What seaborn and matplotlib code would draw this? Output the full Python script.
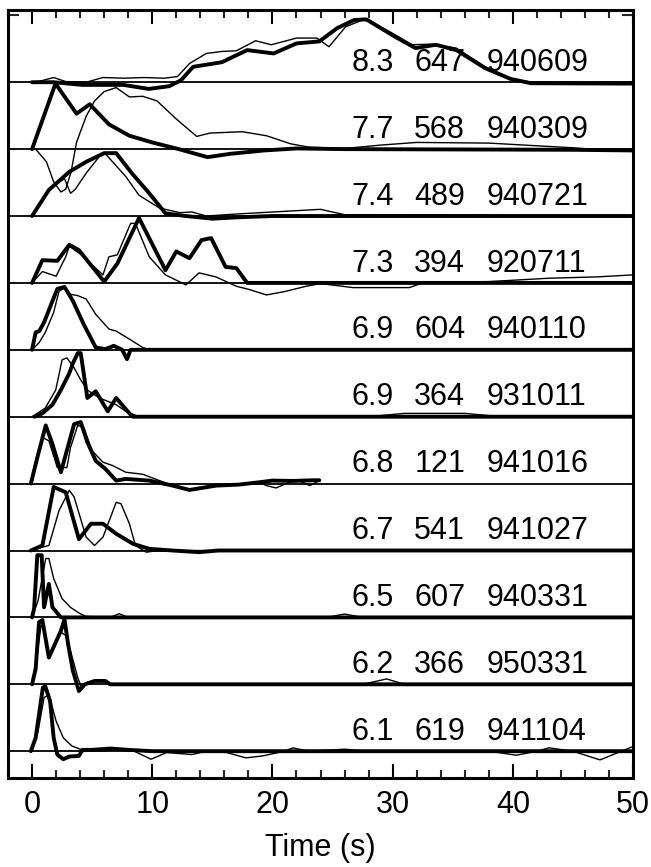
import numpy as np
import pandas as pd
import matplotlib
matplotlib.use("Agg")
import matplotlib.pyplot as plt
from matplotlib.ticker import MultipleLocator
import seaborn as sns

# Event labels: magnitude, station/record number, date (yymmdd), top to bottom
magnitudes = ["8.3", "7.7", "7.4", "7.3", "6.9", "6.9", "6.8", "6.7", "6.5", "6.2", "6.1"]
record_ids = ["647", "568", "489", "394", "604", "364", "121", "541", "607", "366", "619"]
dates = ["940609", "940309", "940721", "920711", "940110", "931011",
         "941016", "941027", "940331", "950331", "941104"]

# Source time functions (normalised amplitude) - thick: primary estimate, thin: alternative
thick_t = [
    [0, 1.8, 4.2, 7.6, 9.7, 11.4, 12.4, 13.4, 15.8, 17.9, 20.1, 22.0, 23.9, 25.4, 26.8, 27.8,
     30.2, 31.9, 33.6, 35.3, 37.7, 39.8, 41.5, 49.4, 50],
    [0, 1.95, 3.7, 4.8, 6.4, 8.1, 10.0, 12.2, 14.6, 16.5, 19.3, 22.0, 26, 45, 50],
    [0, 1.4, 3.1, 4.5, 6.0, 7.0, 8.3, 9.75, 11.1, 12.8, 15.0, 17, 20, 50],
    [0, 0.86, 2.1, 3.1, 3.9, 6.0, 7.1, 8.9, 11.1, 12.0, 13.1, 14.1, 14.9, 16.1, 17.0, 17.9, 50],
    [0, 0.3, 0.6, 1.0, 1.7, 2.1, 2.7, 3.4, 4.3, 5.3, 6.1, 6.8, 7.5, 7.9, 8.2, 50],
    [0.2, 0.86, 1.7, 2.4, 3.1, 3.4, 3.8, 4.05, 4.6, 5.3, 6.3, 7.0, 8.2, 8.4, 50],
    [-0.1, 0.44, 1.14, 1.7, 2.4, 3.5, 4.05, 4.6, 5.3, 6.1, 7.0, 7.8, 9.75, 11.7, 13.1, 15.3,
     17.2, 18.9, 20.0, 21.7, 23.4, 23.9],
    [-0.1, 0.86, 1.8, 2.8, 3.9, 4.9, 5.9, 7.0, 8.4, 9.75, 11.7, 13.9, 15.5, 50],
    [0, 0.17, 0.44, 0.8, 1.0, 1.4, 1.7, 2.4, 50],
    [0, 0.3, 0.58, 0.86, 1.4, 2.1, 2.4, 2.7, 3.0, 3.4, 3.9, 4.4, 5.2, 6.1, 6.5, 50],
    [-0.1, 0.3, 0.9, 1.1, 1.5, 1.8, 2.1, 2.6, 3.1, 3.9, 4.2, 5.0, 6.5, 8, 10, 50],
]
thick_a = [
    [0, 0, -0.04, -0.04, -0.1, -0.06, 0.03, 0.23, 0.3, 0.48, 0.43, 0.58, 0.61, 0.81, 0.93, 0.94,
     0.68, 0.51, 0.56, 0.48, 0.21, 0.05, -0.015, -0.02, -0.02],
    [0, 0.98, 0.53, 0.67, 0.37, 0.2, 0.1, 0.0, -0.12, -0.07, -0.02, 0.01, 0.0, -0.01, -0.02],
    [0, 0.39, 0.66, 0.81, 0.94, 0.94, 0.64, 0.34, 0.04, 0.0, -0.04, -0.02, 0.0, 0.0],
    [0, 0.34, 0.33, 0.57, 0.49, 0.02, 0.29, 0.97, 0.19, 0.47, 0.37, 0.64, 0.67, 0.24, 0.22, 0.0, 0.0],
    [0, 0.26, 0.28, 0.41, 0.73, 0.91, 0.94, 0.73, 0.38, 0.035, 0.01, 0.06, 0.0, -0.14, 0.0, 0.0],
    [0, 0.05, 0.18, 0.4, 0.65, 0.8, 0.95, 0.95, 0.28, 0.38, 0.08, 0.28, 0.03, 0.0, 0.0],
    [0, 0.39, 0.87, 0.59, 0.17, 0.89, 0.92, 0.62, 0.34, 0.22, 0.045, 0.07, 0.045, -0.03, -0.095,
     -0.03, -0.015, 0.02, 0.045, 0.04, 0.05, 0.05],
    [0, 0.075, 0.95, 0.87, 0.17, 0.4, 0.4, 0.25, 0.1, 0.025, 0.0, -0.025, 0.0, 0.0],
    [0, 0.13, 0.93, 0.93, 0.15, 0.5, 0.15, 0.0, 0.0],
    [0, 0.23, 0.93, 0.96, 0.4, 0.68, 0.8, 0.97, 0.6, 0.2, -0.1, 0.0, 0.05, 0.05, 0.0, 0.0],
    [0, 0.2, 0.95, 0.97, 0.75, 0.2, -0.05, -0.12, -0.08, -0.07, 0.02, 0.02, 0.04, 0.02, 0.0, 0.0],
]
thin_t = [
    [0, 0.75, 1.8, 2.8, 4.5, 5.9, 7.6, 9.3, 11.0, 12.1, 13.1, 14.5, 15.8, 17.0, 18.6, 19.9, 22.0,
     23.7, 24.7, 26.1, 27.5, 28.2, 30.2, 31.6, 33.3, 35.3, 37.7, 39.8, 41.5, 50],
    [0, 0.3, 1.2, 1.8, 2.4, 2.8, 3.25, 3.7, 4.5, 5.2, 6.0, 7.0, 8.1, 9.2, 10.4, 12.0, 13.7, 14.8,
     17.5, 19.5, 21.5, 23.0, 26, 29, 32, 38, 45, 48, 50],
    [0, 1.4, 2.7, 3.2, 3.6, 4.5, 5.6, 6.1, 7.8, 8.9, 10.6, 12.3, 13.3, 14.5, 17, 20, 24, 26, 50],
    [0, 0.86, 2.0, 2.8, 3.1, 4.1, 5.9, 6.4, 7.1, 8.2, 8.6, 9.75, 11.1, 12.8, 13.9, 15.3, 17.0, 18.1,
     19.5, 21.0, 22.8, 24, 26.7, 31.4, 32.5, 38, 43, 47, 50],
    [0, 0.6, 1.1, 1.8, 2.25, 2.7, 3.2, 3.8, 4.5, 5.3, 6.4, 7.0, 8.1, 9.2, 9.75, 50],
    [0, 1.1, 1.97, 2.5, 2.9, 3.5, 4.05, 4.6, 5.6, 7.0, 7.8, 8.9, 10.3, 28, 31, 36, 39, 50],
    [0, 0.3, 0.86, 1.4, 2.1, 2.9, 3.2, 3.8, 4.3, 5.0, 5.9, 6.7, 7.8, 9.2, 10.6, 12.25, 13.1, 14.5,
     17.0, 18.9, 19.5, 20.3, 21.4, 22.2, 23.1, 23.9],
    [0, 0.86, 1.4, 2.25, 3.1, 3.5, 4.5, 5.2, 5.9, 7.0, 7.4, 8.1, 8.6, 9.5, 10.5, 50],
    [0, 0.5, 1.14, 1.4, 1.8, 2.5, 3.2, 4.0, 4.5, 6.5, 7.25, 8.0, 24.5, 26, 27.5, 50],
    [0, 0.5, 0.75, 1.0, 1.4, 1.97, 2.4, 2.8, 3.2, 3.8, 4.1, 4.6, 5.4, 6.1, 6.6, 27.5, 29.5, 31, 50],
    [0, 0.5, 1.0, 1.4, 2.0, 2.6, 3.3, 4.0, 5.0, 7.0, 8.5, 9.9, 11.2, 13.3, 14.5, 16.2, 17.8, 19.2,
     21.0, 21.7, 23, 26, 28, 38, 40.3, 42, 43, 45, 47.25, 50],
]
thin_a = [
    [0, 0.02, 0.07, 0.01, 0.0, 0.07, 0.06, 0.07, 0.06, 0.085, 0.28, 0.43, 0.46, 0.47, 0.62, 0.56,
     0.66, 0.66, 0.53, 0.83, 0.93, 0.91, 0.71, 0.56, 0.57, 0.51, 0.23, 0.06, 0.0, 0.0],
    [0, 0, -0.19, -0.49, -0.64, -0.6, -0.34, 0.1, 0.49, 0.72, 0.86, 0.92, 0.78, 0.79, 0.72, 0.45,
     0.19, 0.24, 0.26, 0.2, 0.08, 0.03, 0.01, 0.06, 0.1, 0.09, 0.02, -0.02, -0.02],
    [0, 0.4, 0.56, 0.34, 0.4, 0.64, 0.89, 0.93, 0.59, 0.31, 0.12, 0.05, 0.06, 0.0, 0.03, 0.06,
     0.1, 0.02, 0.0],
    [0, 0.17, 0.1, 0.39, 0.55, 0.42, 0.12, 0.39, 0.42, 0.89, 0.89, 0.39, 0.12, -0.03, 0.15, 0.09,
     -0.05, -0.1, -0.18, -0.13, -0.05, -0.01, -0.07, -0.07, 0.0, 0.02, 0.07, 0.09, 0.12],
    [0, 0.11, 0.26, 0.56, 0.88, 0.92, 0.83, 0.81, 0.76, 0.53, 0.31, 0.28, 0.16, 0.035, 0.0, 0.0],
    [0, 0.13, 0.4, 0.85, 0.88, 0.73, 0.55, 0.4, 0.28, 0.18, 0.08, 0.0, 0.0, 0.0, 0.05, 0.05, 0.0, 0.0],
    [0, 0.34, 0.69, 0.64, 0.24, 0.24, 0.54, 0.87, 0.84, 0.49, 0.32, 0.27, 0.17, 0.14, 0.045,
     -0.065, -0.1, -0.055, -0.01, 0.02, -0.03, -0.065, 0.02, 0.045, -0.03, 0.045],
    [0, 0.05, 0.075, 0.6, 0.9, 0.8, 0.2, 0.075, 0.2, 0.72, 0.7, 0.4, 0.075, -0.025, 0.0, 0.0],
    [0, 0.25, 0.88, 0.88, 0.58, 0.28, 0.15, 0.055, 0.015, 0.0, 0.055, 0.0, 0.0, 0.05, 0.0, 0.0],
    [0, 0.55, 0.88, 0.83, 0.43, 0.63, 0.78, 0.73, 0.5, 0.1, -0.04, 0.03, 0.06, 0.04, 0.0, 0.0,
     0.08, 0.0, 0.0],
    [0, 0.3, 0.8, 0.85, 0.45, 0.2, 0.08, 0.03, 0, 0.02, 0.0, -0.12, -0.02, -0.05, 0.0, -0.02,
     -0.1, -0.07, 0.0, 0.05, 0.0, 0.03, 0.0, 0.0, -0.06, 0.0, 0.05, 0.0, -0.13, 0.07],
]

x_ticks = [0, 10, 20, 30, 40, 50]

sns.set_theme(style="ticks")
plt.rcParams["font.family"] = ["Liberation Sans", "DejaVu Sans"]

fig = plt.figure(figsize=(6.51, 8.67), dpi=100)
ax = fig.add_axes([0.0123, 0.1027, 0.9601, 0.8858])

label_fs = 22
n_rows = len(magnitudes)
for i in range(n_rows):
    offset = n_rows - 1 - i
    # zero line of the trace
    ax.axhline(offset, color="black", lw=1.3, zorder=1)
    sns.lineplot(x=np.array(thin_t[i]), y=np.array(thin_a[i]) + offset, ax=ax,
                 color="black", lw=1.0, sort=False, estimator=None, zorder=2)
    sns.lineplot(x=np.array(thick_t[i]), y=np.array(thick_a[i]) + offset, ax=ax,
                 color="black", lw=2.8, sort=False, estimator=None, zorder=3)
    # three label columns: magnitude, record number, date
    for col_x, txt in zip((26.55, 31.8, 37.8), (magnitudes[i], record_ids[i], dates[i])):
        ax.text(col_x, offset + 0.17, txt, ha="left", va="baseline",
                fontsize=label_fs, color="black", zorder=4)

ax.set_xlim(-2, 50)
ax.set_ylim(-0.40, 11.08)
ax.set_xticks(x_ticks)
ax.xaxis.set_minor_locator(MultipleLocator(2))
ax.set_yticks([11])
ax.set_yticklabels([])
ax.tick_params(axis="x", which="major", direction="in", top=True, length=10, width=1.5,
               labelsize=label_fs, pad=9, colors="black")
ax.tick_params(axis="x", which="minor", direction="in", top=True, length=5.5, width=1.5)
ax.tick_params(axis="y", which="major", direction="in", right=True, length=8, width=1.5)
ax.set_xlabel("Time (s)", fontsize=label_fs, labelpad=9, color="black")
ax.set_ylabel("")
for s in ax.spines.values():
    s.set_linewidth(2.2)
    s.set_color("black")

fig.savefig("out.png", dpi=100, facecolor="white")
